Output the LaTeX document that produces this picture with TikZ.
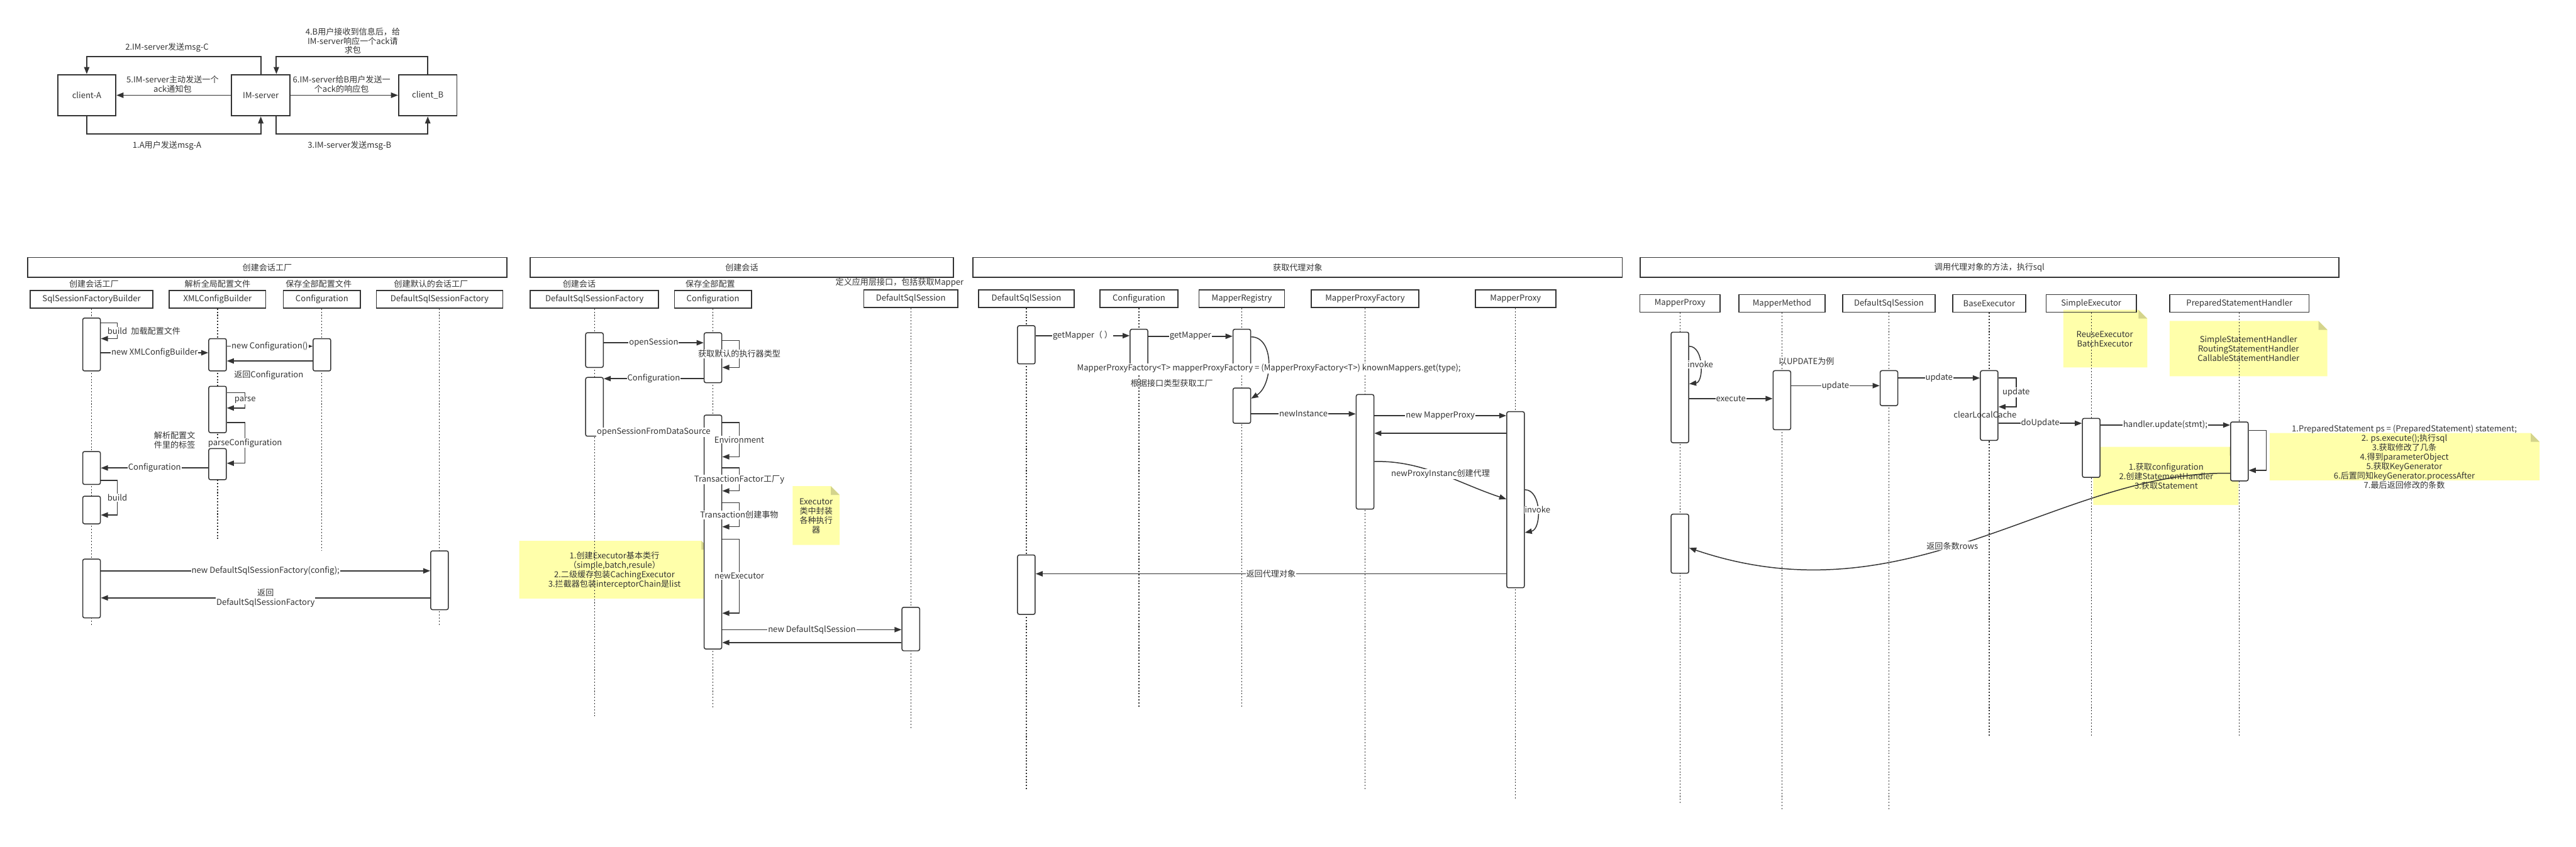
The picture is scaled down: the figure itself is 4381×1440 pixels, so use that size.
\documentclass[tikz,border=0pt]{standalone}
\usepackage{fontspec}
\setmainfont{Noto Sans CJK SC}
\usetikzlibrary{arrows.meta}
\pgfdeclarelayer{bg}
\pgfsetlayers{bg,main}
\definecolor{ink}{HTML}{333333}
\definecolor{notefill}{HTML}{FFFFAA}
\definecolor{notefold}{HTML}{D4D48C}
\tikzset{
    every node/.style={font=\fontsize{14}{16}\selectfont, text=ink},
    >={Triangle[length=12pt, width=9pt]}
}
\tikzset{
    stage/.style={draw=ink, line width=2pt, minimum height=34pt},
    hdr/.style={draw=ink, line width=1.8pt, minimum height=30pt},
    act/.style={draw=ink, line width=1.6pt, rounded corners=3pt, fill=white, minimum width=30pt},
    life/.style={draw=ink, line width=1.3pt, dash pattern=on 2.2pt off 3pt},
    call/.style={draw=ink, line width=1.6pt},
    lbl/.style={fill=white, inner sep=1pt},
    imbox/.style={draw=ink, line width=2pt, minimum width=99pt, minimum height=70pt}
}
\newcommand{\stickynote}[4]{%
    \fill[notefill] (#1,#2) -- (#3-15,#2) -- (#3,#2+15) -- (#3,#4) -- (#1,#4) -- cycle;
    \fill[notefold] (#3-15,#2) -- (#3-15,#2+15) -- (#3,#2+15) -- cycle;
}

\begin{document}
\begin{tikzpicture}[x=1pt, y=-1pt]
    \useasboundingbox (0,0) rectangle (4381,1440);

    % IM
    \node (clia) at (147.5, 162) [imbox] {client-A};
    \node (imsrv) at (443.5, 162) [imbox] {IM-server};
    \node (clib) at (727.5, 162) [imbox] {client\_B};

    \draw[call, line width=2pt, ->] (imsrv.north) -- ++(0,-30) -| (clia.north);
    \draw[call, line width=2pt, ->] (clib.north) -- ++(0,-30) -| ([xshift=26.5pt]imsrv.north);
    \draw[call, line width=2pt, ->] (clia.south) -- ++(0,30) -| (imsrv.south);
    \draw[call, line width=2pt, ->] ([xshift=26.5pt]imsrv.south) -- ++(0,30) -| (clib.south);
    \draw[call, line width=2pt, ->] (imsrv.west) -- (clia.east);
    \draw[call, line width=2pt, ->] (imsrv.east) -- (clib.west);

    \node (m2) at (284, 81) {2.IM-server发送msg-C};
    \node (m4) at (600, 69.5) [align=center] {4.B用户接收到信息后，给\\IM-server响应一个ack请\\求包};
    \node (m5) at (293.5, 143.5) [align=center] {5.IM-server主动发送一个\\ack通知包};
    \node (m6) at (581, 143.5) [align=center] {6.IM-server给B用户发送一\\个ack的响应包};
    \node (m1) at (284, 248) {1.A用户发送msg-A};
    \node (m3) at (594.5, 248) {3.IM-server发送msg-B};

    \begin{pgfonlayer}{bg}
        \stickynote{1348}{827}{1428}{927}
        \stickynote{883}{920}{1208}{1018}
        \stickynote{3509}{527}{3652}{625}
        \stickynote{3690}{546}{3958}{640}
        \stickynote{3560}{760}{3807}{859}
        \stickynote{3860}{736.5}{4319}{817}
    \end{pgfonlayer}

    % stage 1
    \node (f1) at (454.5, 455) [stage, minimum width=815] {创建会话工厂};
    \node (sfb) at (155.75, 509) [hdr, minimum width=208.5, label={[xshift=4pt]above:创建会话工厂}] {SqlSessionFactoryBuilder};
    \node (xcb) at (370, 509) [hdr, minimum width=164, label=above:解析全局配置文件] {XMLConfigBuilder};
    \node (cfg1) at (547.5, 509) [hdr, minimum width=131, label={[xshift=-5.5pt]above:保存全部配置文件}] {Configuration};
    \node (dsf1) at (747.5, 509) [hdr, minimum width=215, label={[xshift=-14.5pt]above:创建默认的会话工厂}] {DefaultSqlSessionFactory};

    \draw[life] (sfb.south) -- (sfb |- 0,1065);
    \draw[life] (xcb.south) -- (xcb |- 0,920);
    \draw[life] (cfg1.south) -- (cfg1 |- 0,936);
    \draw[life] (dsf1.south) -- (dsf1 |- 0,1065);

    \node (a1) at (sfb |- 0,586) [act, minimum height=90] {};
    \node (a2) at (xcb |- 0,603.5) [act, minimum height=55] {};
    \node (a3) at (cfg1 |- 0,603.5) [act, minimum height=55] {};
    \node (a4) at (xcb |- 0,696.5) [act, minimum height=79] {};
    \node (a5) at (xcb |- 0,789.5) [act, minimum height=53] {};
    \node (a6) at (sfb |- 0,796) [act, minimum height=56] {};
    \node (a7) at (sfb |- 0,867.5) [act, minimum height=47] {};
    \node (a8) at (sfb |- 0,1001) [act, minimum height=100] {};
    \node (a9) at (dsf1 |- 0,987) [act, minimum height=100] {};

    \draw[call, ->] (a1.east |- 0,549) -- ++(28,0) -- node[lbl] {build} ++(0,27) -- (a1.east |- 0,576);
    \node (t1) at (265, 563) {加载配置文件};
    \draw[call, ->] (a1.east |- 0,600) -- node[lbl] {new XMLConfigBuilder} (a2.west |- 0,600);
    \draw[call, ->] (a2.east |- 0,589) -- node[lbl] {new Configuration()} (a3.west |- 0,589);
    \draw[call, ->] (a3.west |- 0,614) -- (a2.east |- 0,614);
    \node (t2) at (457, 638) {返回Configuration};
    \draw[call, ->] (a4.east |- 0,668) -- ++(31,0) -- node[lbl] {parse} ++(0,26) -- (a4.east |- 0,694);
    \draw[call, ->] (a4.east |- 0,719) -- ++(31,0) -- node[lbl] {parseConfiguration} ++(0,69) -- (a5.east |- 0,788);
    \node (t3) at (297, 749) [align=center] {解析配置文\\件里的标签};
    \draw[call, ->] (a5.west |- 0,796) -- node[lbl] {Configuration} (a6.east |- 0,796);
    \draw[call, ->] (a6.east |- 0,817) -- ++(28,0) -- node[lbl] {build} ++(0,59) -- (a7.east |- 0,876);
    \draw[call, ->] (a8.east |- 0,971) -- node[lbl] {new DefaultSqlSessionFactory(config);} (a9.west |- 0,971);
    \draw[call, ->] (a9.west |- 0,1017) -- node[lbl, align=center] {返回\\DefaultSqlSessionFactory} (a8.east |- 0,1017);

    % stage 2
    \node (f2) at (1261.5, 455) [stage, minimum width=719] {创建会话};
    \node (dsf2) at (1011, 509) [hdr, minimum width=218, label={[xshift=-26pt]above:创建会话}] {DefaultSqlSessionFactory};
    \node (cfg2) at (1212.5, 509) [hdr, minimum width=131, label={[xshift=-4.5pt]above:保存全部配置}] {Configuration};
    \node (dss2) at (1549, 508) [hdr, minimum width=160, label={[xshift=-19pt]above:定义应用层接口，包括获取Mapper}] {DefaultSqlSession};

    \draw[life] (dsf2.south) -- (dsf2 |- 0,1220);
    \draw[life] (cfg2.south) -- (cfg2 |- 0,1206);
    \draw[life] (dss2.south) -- (dss2 |- 0,1239);

    \node (n1) at (1388, 877.5) [align=center] {Executor\\类中封装\\各种执行\\器};
    \node (n2) at (1045, 970) [align=center] {1.创建Executor基本类行\\（simple,batch,resule）\\2.二级缓存包装CachingExecutor\\3.拦截器包装interceptorChain是list};

    \node (b1) at (dsf2 |- 0,595.5) [act, minimum height=59] {};
    \node (b2) at (cfg2 |- 0,608.5) [act, minimum height=85] {};
    \node (b3) at (dsf2 |- 0,692) [act, minimum height=100] {};
    \node (b4) at (cfg2 |- 0,905) [act, minimum height=398] {};
    \node (b5) at (dss2 |- 0,1070) [act, minimum height=74] {};

    \draw[call, ->] (b1.east |- 0,583) -- node[lbl] {openSession} (b2.west |- 0,583);
    \draw[call, ->] (b2.east |- 0,579) -- ++(29,0) -- node[lbl] {获取默认的执行器类型} ++(0,46) -- (b2.east |- 0,625);
    \draw[call, ->] (b2.west |- 0,644) -- node[lbl] {Configuration} (b3.east |- 0,644);
    \draw[call, ->] (b3.east |- 0,735) -- node[lbl] {openSessionFromDataSource} (b4.west |- 0,735);
    \draw[call, ->] (b4.east |- 0,719) -- ++(29,0) -- node[lbl] {Environment} ++(0,58) -- (b4.east |- 0,777);
    \draw[call, ->] (b4.east |- 0,796) -- ++(29,0) -- node[lbl] {TransactionFactor工厂y} ++(0,39) -- (b4.east |- 0,835);
    \draw[call, ->] (b4.east |- 0,855) -- ++(29,0) -- node[lbl] {Transaction创建事物} ++(0,41) -- (b4.east |- 0,896);
    \draw[call, ->] (b4.east |- 0,917) -- ++(29,0) -- node[lbl] {newExecutor} ++(0,126) -- (b4.east |- 0,1043);
    \draw[call, ->] (b4.east |- 0,1071) -- node[lbl] {new DefaultSqlSession} (b5.west |- 0,1071);
    \draw[call, ->] (b5.west |- 0,1093) -- (b4.east |- 0,1093);

    % stage 3
    \node (f3) at (2207, 455) [stage, minimum width=1104] {获取代理对象};
    \node (dss3) at (1745.5, 508) [hdr, minimum width=163] {DefaultSqlSession};
    \node (cfg3) at (1937, 508) [hdr, minimum width=132] {Configuration};
    \node (mreg) at (2112, 508) [hdr, minimum width=145.5] {MapperRegistry};
    \node (mpf) at (2321.5, 508) [hdr, minimum width=183] {MapperProxyFactory};
    \node (mprx3) at (2577.5, 508) [hdr, minimum width=137] {MapperProxy};

    \draw[life] (dss3.south) -- (dss3 |- 0,1345);
    \draw[life] (cfg3.south) -- (cfg3 |- 0,1204);
    \draw[life] (mreg.south) -- (mreg |- 0,1204);
    \draw[life] (mpf.south) -- (mpf |- 0,1345);
    \draw[life] (mprx3.south) -- (mprx3 |- 0,1360);

    \node (c1) at (dss3 |- 0,586.5) [act, minimum height=65] {};
    \node (c2) at (cfg3 |- 0,593.5) [act, minimum height=67] {};
    \node (c3) at (mreg |- 0,593.5) [act, minimum height=67] {};
    \node (c4) at (mreg |- 0,690) [act, minimum height=60] {};
    \node (c5) at (mpf |- 0,768.5) [act, minimum height=195] {};
    \node (c6) at (mprx3 |- 0,850) [act, minimum height=299.5] {};
    \node (c7) at (dss3 |- 0,994.5) [act, minimum height=101] {};

    \draw[call, ->] (c1.east |- 0,571) -- node[lbl] {getMapper（ ）} (c2.west |- 0,571);
    \draw[call, ->] (c2.east |- 0,572) -- node[lbl] {getMapper} (c3.west |- 0,572);
    \draw[call, ->] (c3.east |- 0,573) .. controls (2168,573) and (2165,655) .. (c4.east |- 0,678);
    \node (expr) at (2158, 627) [lbl] {MapperProxyFactory<T> mapperProxyFactory = (MapperProxyFactory<T>) knownMappers.get(type);};
    \node (t4) at (1993, 651.5) {根据接口类型获取工厂};
    \draw[call, ->] (c4.east |- 0,704) -- node[lbl] {newInstance} (c5.west |- 0,704);
    \draw[call, ->] (c5.east |- 0,707) -- node[lbl] {new MapperProxy} (c6.west |- 0,707);
    \draw[call, ->] (c6.west |- 0,737) -- (c5.east |- 0,737);
    \draw[call, ->] (c5.east |- 0,785) .. controls (2420,783) and (2480,822) .. (c6.west |- 0,849)
        node[lbl, midway] {newProxyInstanc创建代理};
    \draw[call, ->] (c6.east |- 0,833) .. controls (2622,833) and (2622,900) .. (c6.east |- 0,906)
        node[lbl, midway] {invoke};
    \draw[call, ->] (c6.west |- 0,976) -- node[lbl] {返回代理对象} (c7.east |- 0,976);

    % stage 4
    \node (f4) at (3383.5, 455) [stage, minimum width=1189] {调用代理对象的方法，执行sql};
    \node (mprx4) at (2857, 516) [hdr, minimum width=136] {MapperProxy};
    \node (mmeth) at (3030.5, 516) [hdr, minimum width=147] {MapperMethod};
    \node (dss4) at (3212.5, 516) [hdr, minimum width=157] {DefaultSqlSession};
    \node (bexe) at (3383, 516) [hdr, minimum width=123.5] {BaseExecutor};
    \node (sexe) at (3556.5, 516) [hdr, minimum width=153] {SimpleExecutor};
    \node (psh) at (3808.5, 516) [hdr, minimum width=237] {PreparedStatementHandler};

    \draw[life] (mprx4.south) -- (mprx4 |- 0,1368);
    \draw[life] (mmeth.south) -- (mmeth |- 0,1376);
    \draw[life] (dss4.south) -- (dss4 |- 0,1376);
    \draw[life] (bexe.south) -- (bexe |- 0,1253);
    \draw[life] (sexe.south) -- (sexe |- 0,1253);
    \draw[life] (psh.south) -- (psh |- 0,1253);

    \node (n3) at (3579.5, 576.5) [align=center] {ReuseExecutor\\BatchExecutor};
    \node (n4) at (3824, 593) [align=center] {SimpleStatementHandler\\RoutingStatementHandler\\CallableStatementHandler};
    \node (n5) at (3684, 810) [align=center] {1.获取configuration\\2.创建StatementHandler\\3.获取Statement};
    \node (n6) at (4089, 777.5) [align=center] {1.PreparedStatement ps = (PreparedStatement) statement;\\2. ps.execute();执行sql\\3.获取修改了几条\\4.得到parameterObject\\5.获取KeyGenerator\\6.后置同知keyGenerator.processAfter\\7.最后返回修改的条数};

    \node (d1) at (mprx4 |- 0,659) [act, minimum height=188] {};
    \node (d2) at (mmeth |- 0,680.75) [act, minimum height=100.5] {};
    \node (d3) at (dss4 |- 0,660.25) [act, minimum height=59.5] {};
    \node (d4) at (bexe |- 0,689.75) [act, minimum height=118.5] {};
    \node (d5) at (sexe |- 0,761.8) [act, minimum height=100.4] {};
    \node (d6) at (psh |- 0,767.85) [act, minimum height=100.3] {};
    \node (d7) at (mprx4 |- 0,924.8) [act, minimum height=100.4] {};

    \draw[call, ->] (d1.east |- 0,589) .. controls (2898,589) and (2898,650) .. (d1.east |- 0,653)
        node[lbl, midway] {invoke};
    \draw[call, ->] (d1.east |- 0,678) -- node[lbl] {execute} (d2.west |- 0,678);
    \node (t5) at (3072, 615) {以UPDATE为例};
    \draw[call, ->] (d2.east |- 0,656) -- node[lbl] {update} (d3.west |- 0,656);
    \draw[call, ->] (d3.east |- 0,643) -- node[lbl] {update} (d4.west |- 0,643);
    \draw[call, ->] (d4.east |- 0,643) -- ++(30,0) -- node[lbl] {update} ++(0,49) -- (d4.east |- 0,692);
    \node (t6) at (3376, 705) {clearLocalCache};
    \draw[call, ->] (d4.east |- 0,720) -- node[lbl] {doUpdate} (d5.west |- 0,720);
    \draw[call, ->] (d5.east |- 0,723) -- node[lbl] {handler.update(stmt);} (d6.west |- 0,723);
    \draw[call, ->] (d6.east |- 0,732) -- ++(30,0) |- (d6.east |- 0,800);
    \draw[call, ->] (d6.west |- 0,805) .. controls (3500,800) and (3250,1060) .. (d7.east |- 0,932)
        node[lbl, pos=0.55] {返回条数rows};
\end{tikzpicture}
\end{document}
